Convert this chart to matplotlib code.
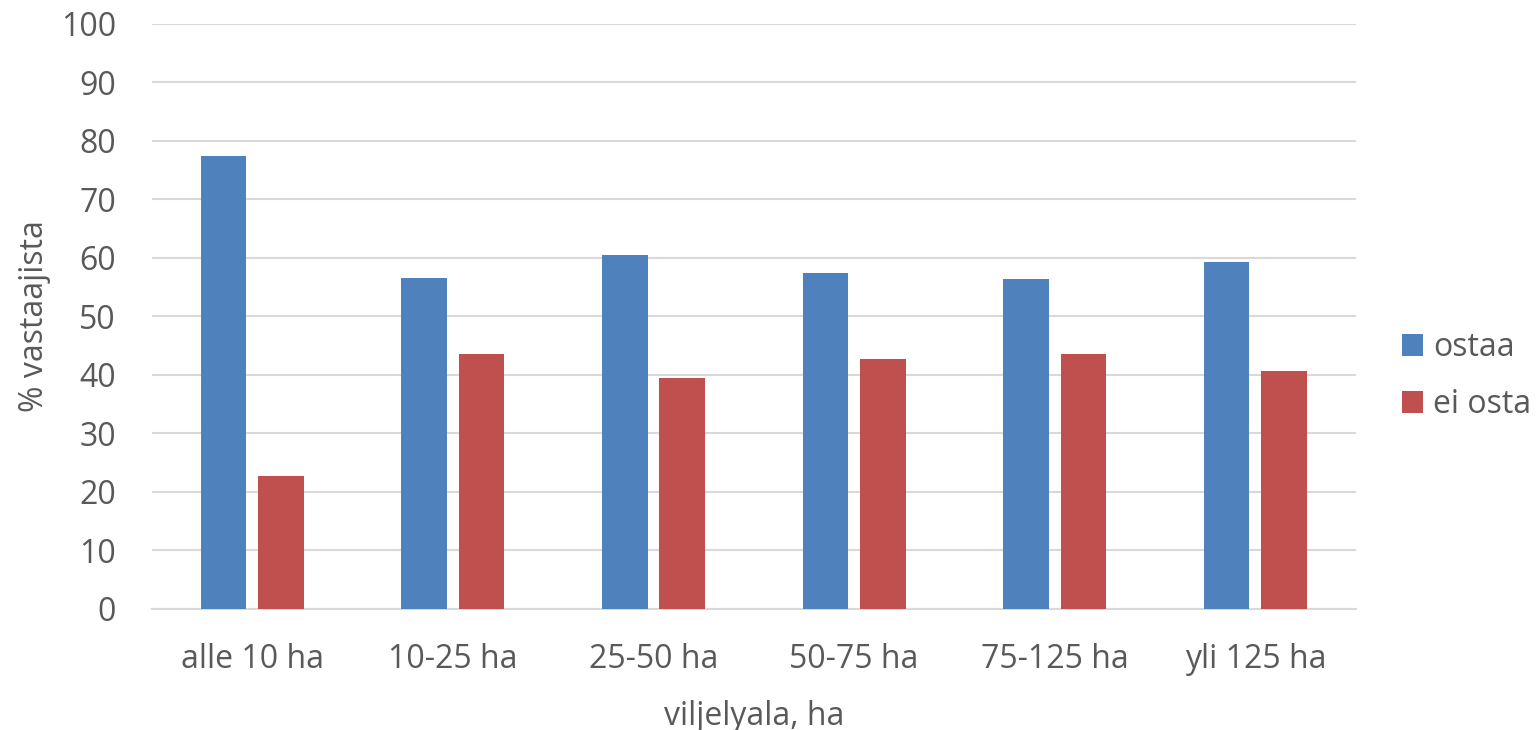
import matplotlib
matplotlib.use("Agg")
import matplotlib.pyplot as plt
import numpy as np

categories = ["alle 10 ha", "10-25 ha", "25-50 ha", "50-75 ha", "75-125 ha", "yli 125 ha"]
ostaa = [77.3, 56.5, 60.5, 57.4, 56.4, 59.3]
ei_osta = [22.7, 43.5, 39.5, 42.6, 43.6, 40.7]
series_names = ["ostaa", "ei osta"]
y_ticks = [0, 10, 20, 30, 40, 50, 60, 70, 80, 90, 100]

plt.rcParams['font.family'] = ['Open Sans', 'DejaVu Sans']
txt = '#595959'
fs = 23

fig = plt.figure(figsize=(15.37, 7.30), dpi=100)
ax = fig.add_axes([0.0989, 0.1662, 0.7831, 0.8016])

x = np.arange(len(categories))
w = 0.227
off = 0.143
ax.bar(x - off, ostaa, width=w, color='#4F81BD', label=series_names[0], zorder=3)
ax.bar(x + off, ei_osta, width=w, color='#C0504D', label=series_names[1], zorder=3)

ax.set_xlim(-0.5, len(categories) - 0.5)
ax.set_ylim(0, 100)
ax.set_yticks(y_ticks)
ax.set_xticks(x)
ax.set_xticklabels(categories)
ax.yaxis.grid(True, color='#D9D9D9', linewidth=1.5, zorder=0)
ax.set_axisbelow(True)
for s in ['top', 'right', 'left']:
    ax.spines[s].set_visible(False)
ax.spines['bottom'].set_color('#D9D9D9')
ax.spines['bottom'].set_linewidth(1.5)
ax.tick_params(axis='both', length=0, colors=txt, labelsize=fs)
ax.tick_params(axis='y', pad=26)
ax.tick_params(axis='x', pad=25)

ax.set_xlabel("viljelyala, ha", fontsize=fs, color=txt, labelpad=17)
ax.set_ylabel("% vastaajista", fontsize=fs, color=txt, labelpad=7)

leg = fig.legend(loc='center left', bbox_to_anchor=(1402 / 1537, 1 - 376 / 730),
                 bbox_transform=fig.transFigure, frameon=False,
                 fontsize=fs, handlelength=0.66, handleheight=0.66, handletextpad=0.31,
                 labelspacing=0.75, borderpad=0, borderaxespad=0)
for t in leg.get_texts():
    t.set_color(txt)

fig.savefig("out.png", dpi=100)
